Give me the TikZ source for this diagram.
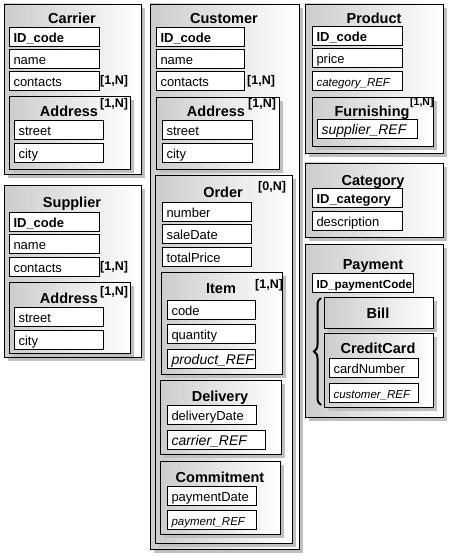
\documentclass[tikz,border=0pt]{standalone}
\usepackage{fontspec}
\setmainfont{Liberation Sans}
\usetikzlibrary{shadows,fit,decorations.pathreplacing}

\tikzset{
  entity/.style={draw, line width=0.8pt, inner sep=0pt, left color=black!20, right color=white,
    drop shadow={shadow xshift=4pt, shadow yshift=-4pt, opacity=1, fill=black!25}},
  field/.style={draw, line width=1pt, fill=white, anchor=north west, inner xsep=4pt, inner ysep=3pt,
    text height=12pt, text depth=1pt, text width=#1, align=left, font=\fontsize{13}{15}\selectfont},
  idfield/.style={font=\fontsize{13}{15}\selectfont\bfseries},
  reflarge/.style={font=\fontsize{14}{16}\selectfont\itshape},
  refsmall/.style={font=\fontsize{11.5}{13}\selectfont\itshape},
  heading/.style={anchor=base, inner sep=0pt, font=\fontsize{14.5}{16}\selectfont\bfseries},
  mult/.style={anchor=base west, inner sep=0pt, font=\fontsize{12.5}{14}\selectfont\bfseries},
}

\begin{document}
\begin{tikzpicture}[x=1pt,y=-1pt]
\useasboundingbox (0,0) rectangle (451,556);
\fill[white] (0,0) rectangle (451,556);

% Carrier
\node[entity, fit={(4,4) (141,174)}] (carrier) {};
\node[heading] (carrierTitle) at (72,24) {Carrier};
\node[field=82pt, idfield] (carrierId) at (9,27) {ID\_code};
\node[field=82pt] (carrierName) at (9,49) {name};
\node[field=82pt] (carrierContacts) at (9,71) {contacts};
\node[mult] (carrierContactsN) at (100,85) {[1,N]};
\node[entity, fit={(9,96) (130,169)}] (carrierAddress) {};
\node[heading] (carrierAddressTitle) at (69,117) {Address};
\node[mult] (carrierAddressN) at (100,108) {[1,N]};
\node[field=81pt] (carrierStreet) at (14,120) {street};
\node[field=81pt] (carrierCity) at (14,143) {city};

% Supplier
\node[entity, fit={(4,185) (141,357)}] (supplier) {};
\node[heading] (supplierTitle) at (72,207) {Supplier};
\node[field=82pt, idfield] (supplierId) at (9,212) {ID\_code};
\node[field=82pt] (supplierName) at (9,234) {name};
\node[field=82pt] (supplierContacts) at (9,257) {contacts};
\node[mult] (supplierContactsN) at (100,270) {[1,N]};
\node[entity, fit={(9,282) (130,353)}] (supplierAddress) {};
\node[heading] (supplierAddressTitle) at (69,303) {Address};
\node[mult] (supplierAddressN) at (100,295) {[1,N]};
\node[field=81pt] (supplierStreet) at (14,307) {street};
\node[field=81pt] (supplierCity) at (14,330) {city};

% Customer
\node[entity, fit={(150,4) (299,549)}] (customer) {};
\node[heading] (customerTitle) at (224,24) {Customer};
\node[field=80pt, idfield] (customerId) at (156,27) {ID\_code};
\node[field=80pt] (customerName) at (156,49) {name};
\node[field=80pt] (customerContacts) at (156,71) {contacts};
\node[mult] (customerContactsN) at (247,85) {[1,N]};
\node[entity, fit={(156,97) (279,169)}] (customerAddress) {};
\node[heading] (customerAddressTitle) at (216,117) {Address};
\node[mult] (customerAddressN) at (248,108) {[1,N]};
\node[field=82pt] (customerStreet) at (162,120) {street};
\node[field=82pt] (customerCity) at (162,143) {city};

\node[entity, fit={(155,175) (292,543)}] (order) {};
\node[heading] (orderTitle) at (223,197) {Order};
\node[mult] (orderN) at (258,190) {[0,N]};
\node[field=81pt] (orderNumber) at (162,202) {number};
\node[field=81pt] (orderDate) at (162,224) {saleDate};
\node[field=81pt] (orderPrice) at (162,247) {totalPrice};

\node[entity, fit={(161,272) (282,374)}] (item) {};
\node[heading] (itemTitle) at (221,293) {Item};
\node[mult] (itemN) at (255,288) {[1,N]};
\node[field=80pt] (itemCode) at (167,300) {code};
\node[field=80pt] (itemQuantity) at (167,324) {quantity};
\node[field=80pt, reflarge] (itemProduct) at (167,349) {product\_REF};

\node[entity, fit={(160,380) (281,454)}] (delivery) {};
\node[heading] (deliveryTitle) at (220,401) {Delivery};
\node[field=81pt] (deliveryDate) at (167,405) {deliveryDate};
\node[field=90pt, reflarge] (deliveryCarrier) at (167,430) {carrier\_REF};

\node[entity, fit={(160,461) (280,534)}] (commitment) {};
\node[heading] (commitmentTitle) at (220,482) {Commitment};
\node[field=81pt] (commitmentDate) at (167,486) {paymentDate};
\node[field=81pt, refsmall] (commitmentPayment) at (167,510) {payment\_REF};

% Product
\node[entity, fit={(305,4) (443,153)}] (product) {};
\node[heading] (productTitle) at (374,24) {Product};
\node[field=82pt, idfield] (productId) at (312,26) {ID\_code};
\node[field=82pt] (productPrice) at (312,48) {price};
\node[field=82pt, refsmall] (productCategory) at (312,71) {category\_REF};
\node[entity, fit={(312,97) (433,146)}] (furnishing) {};
\node[heading] (furnishingTitle) at (372,117) {Furnishing};
\node[mult, font=\fontsize{10.5}{12}\selectfont\bfseries] (furnishingN) at (410,106) {[1,N]};
\node[field=92pt, reflarge] (furnishingSupplier) at (317,119) {supplier\_REF};

% Category
\node[entity, fit={(305,163) (443,237)}] (category) {};
\node[heading] (categoryTitle) at (373,185) {Category};
\node[field=82pt, idfield] (categoryId) at (312,188) {ID\_category};
\node[field=82pt] (categoryDescription) at (312,211) {description};

% Payment
\node[entity, fit={(305,244) (443,417)}] (payment) {};
\node[heading] (paymentTitle) at (373,269) {Payment};
\node[field=93pt, font=\fontsize{11.7}{13}\selectfont\bfseries] (paymentId) at (312,273) {ID\_paymentCode};
\coordinate (braceBottom) at (321,405);
\coordinate (braceTop) at (321,298);
\draw[line width=2pt, decorate, decoration={brace, amplitude=7pt}] (braceBottom) -- (braceTop);
\node[entity, fit={(324,297) (433,328)}] (bill) {};
\node[heading] (billTitle) at (378,318) {Bill};
\node[entity, fit={(324,333) (433,407)}] (creditCard) {};
\node[heading] (creditCardTitle) at (378,353) {CreditCard};
\node[field=81pt] (creditCardNumber) at (329,358) {cardNumber};
\node[field=81pt, refsmall] (creditCardCustomer) at (329,383) {customer\_REF};
\end{tikzpicture}
\end{document}
